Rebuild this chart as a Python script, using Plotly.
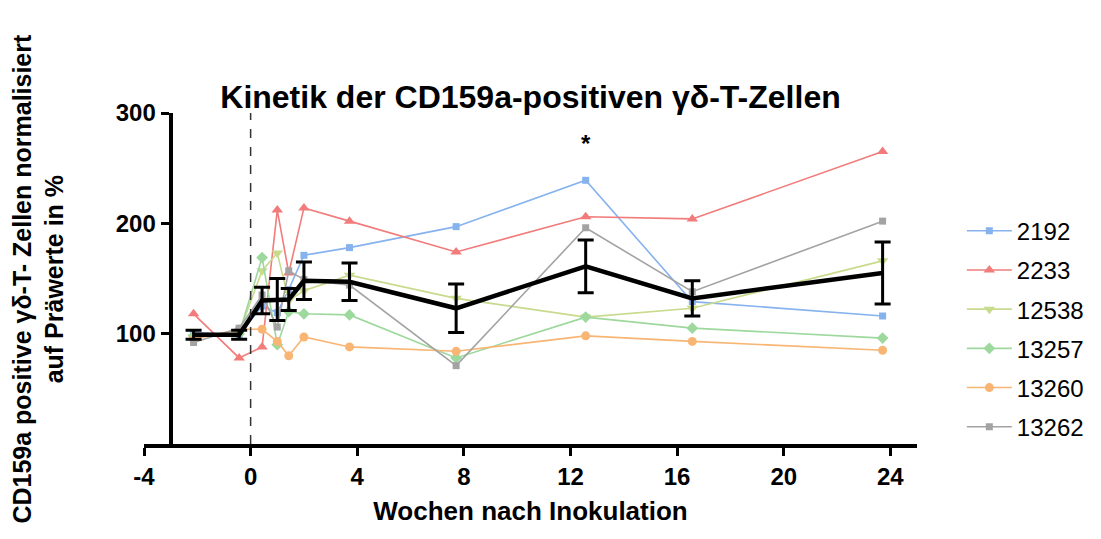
import plotly.graph_objects as go

# Time points (weeks after inoculation)
weeks = [-2.14, -0.43, 0.43, 1.0, 1.43, 2.0, 3.71, 7.71, 12.57, 16.57, 23.71]

# Individual animals (normalized to pre-values, %)
s2192 = [101, 99, 125, 119, 140, 171, 178, 197, 239, 129, 116]
s2233 = [118, 78, 88, 212, 155, 214, 202, 174, 206, 204, 265]
s12538 = [97, 101, 157, 173, 130, 139, 153, 132, 115, 123, 166]
s13257 = [98, 100, 169, 90, 120, 118, 117, 78, 115, 105, 96]
s13260 = [95, 104, 104, 93, 80, 97, 88, 84, 98, 93, 85]
s13262 = [92, 105, 135, 106, 157, 149, 144, 71, 196, 138, 202]

# Mean and SEM
mean_vals = [99, 99, 130, 131, 131, 148, 147, 123, 161, 132, 155]
sem_vals = [4, 4, 12, 19, 10, 17, 17, 22, 24, 16, 28]

series_names = ["2192", "2233", "12538", "13257", "13260", "13262"]
series_data = [s2192, s2233, s12538, s13257, s13260, s13262]
series_colors = ["#86B2EE", "#F27B7B", "#C8DA8C", "#9DD89D", "#F8B574", "#A3A3A3"]
series_symbols = ["square", "triangle-up", "triangle-down", "diamond", "circle", "square"]
series_sizes = [7, 10, 10, 9, 9, 7]

xticks = [-4, 0, 4, 8, 12, 16, 20, 24]
yticks = [100, 200, 300]

FONT = "Liberation Sans, Arial, sans-serif"

fig = go.Figure()

for name, data, col, sym, sz in zip(series_names, series_data, series_colors, series_symbols, series_sizes):
    fig.add_trace(go.Scatter(
        x=weeks, y=data, name=name, mode="lines+markers",
        line=dict(color=col, width=1.6),
        marker=dict(symbol=sym, size=sz, color=col),
        legendgroup=name,
    ))

fig.add_trace(go.Scatter(
    x=weeks, y=mean_vals, mode="lines", showlegend=False,
    line=dict(color="black", width=4.5),
    error_y=dict(type="data", array=sem_vals, visible=True,
                 color="black", thickness=3, width=8),
))

fig.add_shape(type="line", xref="x", yref="y", x0=0, x1=0, y0=0, y1=300,
              line=dict(color="#333333", width=1.5, dash="dash"))

fig.add_annotation(x=12.57, y=272, xref="x", yref="y", text="<b>*</b>",
                   showarrow=False, font=dict(family=FONT, size=24, color="black"))

fig.add_annotation(x=-0.137, y=0.5, xref="paper", yref="paper",
                   text="<b>CD159a positive γδ-T- Zellen normalisiert<br>auf Präwerte in %</b>",
                   textangle=-90, showarrow=False, xanchor="center", yanchor="middle",
                   font=dict(family=FONT, size=25, color="black"))

fig.update_layout(
    width=1101, height=539,
    margin=dict(l=144, r=181, t=113, b=95),
    paper_bgcolor="white", plot_bgcolor="white",
    font=dict(family=FONT, color="black"),
    title=dict(text="<b>Kinetik der CD159a-positiven γδ-T-Zellen</b>",
               x=0.5, xref="paper", xanchor="center", y=0.82, yanchor="middle",
               font=dict(family=FONT, size=32, color="black")),
    showlegend=True,
    legend=dict(x=1.058, xanchor="left", y=0.711, yanchor="top",
                font=dict(family=FONT, size=24, color="black"),
                itemwidth=45,
                tracegroupgap=5, bgcolor="rgba(0,0,0,0)"),
    xaxis=dict(range=[-4, 25], tickvals=xticks, ticktext=[str(t) for t in xticks],
               showline=True, linecolor="black", linewidth=4,
               ticks="outside", ticklen=8, tickwidth=3, tickcolor="black",
               showgrid=False, zeroline=False,
               tickfont=dict(family=FONT, size=24, color="black", weight="bold"),
               title=dict(text="<b>Wochen nach Inokulation</b>", standoff=14,
                          font=dict(family=FONT, size=26, color="black"))),
    yaxis=dict(range=[0, 300], tickvals=yticks, ticktext=[str(t) for t in yticks],
               anchor="free", position=0.0344,
               showline=True, linecolor="black", linewidth=4,
               ticks="outside", ticklen=8, tickwidth=3, tickcolor="black",
               showgrid=False, zeroline=False,
               tickfont=dict(family=FONT, size=24, color="black", weight="bold")),
)

fig.write_html("out.html")
